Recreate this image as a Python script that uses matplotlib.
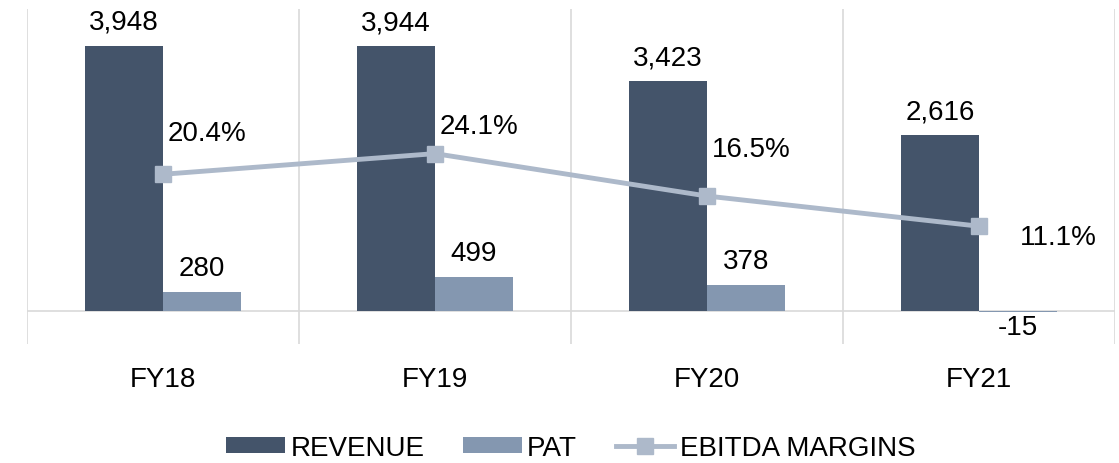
import matplotlib
matplotlib.use('Agg')
import matplotlib.pyplot as plt
import numpy as np
from matplotlib.ticker import FixedLocator

# 数据
YEARS = ['FY18', 'FY19', 'FY20', 'FY21']
REVENUE = [3948, 3944, 3423, 2616]
PAT = [280, 499, 378, -15]
EBITDA_MARGIN = [20.4, 24.1, 16.5, 11.1]

C_REV = '#44546A'
C_PAT = '#8497B0'
C_LINE = '#ADB9CA'
C_GRID = '#D9D9D9'
FS = 20

plt.rcParams['font.family'] = ['Liberation Sans', 'DejaVu Sans']

fig = plt.figure(figsize=(11.19, 4.64), dpi=100)
ax = fig.add_axes([27 / 1119, 1 - 345 / 464, 1088 / 1119, 335 / 464])
ax2 = ax.twinx()

x = np.arange(len(YEARS))
w = 0.287

bars_rev = ax.bar(x - w / 2, REVENUE, w, color=C_REV, label='REVENUE', zorder=2)
bars_pat = ax.bar(x + w / 2, PAT, w, color=C_PAT, label='PAT', zorder=2)

ax.set_xlim(-0.5, len(YEARS) - 0.5)
ax.set_ylim(-500, 4500)
ax.axhline(0, color=C_GRID, lw=1.2, zorder=1)

# 类别之间的竖线
ax.xaxis.set_minor_locator(FixedLocator(np.arange(-0.5, len(YEARS), 1.0)))
ax.grid(which='minor', axis='x', color=C_GRID, lw=1.2)
ax.set_axisbelow(True)
ax.set_xticks(x)
ax.set_xticklabels(YEARS, fontsize=FS)
ax.tick_params(axis='x', which='both', length=0, pad=16)
ax.set_yticks([])
for s in ax.spines.values():
    s.set_visible(False)

for bar, v in zip(bars_rev, REVENUE):
    ax.annotate(f'{v:,}', (bar.get_x() + bar.get_width() / 2, v),
                xytext=(0, 8), textcoords='offset points',
                ha='center', va='bottom', fontsize=FS)
for bar, v in zip(bars_pat, PAT):
    off = 8 if v >= 0 else -2
    ax.annotate(f'{v:,}', (bar.get_x() + bar.get_width() / 2, v),
                xytext=(0, off), textcoords='offset points',
                ha='center', va='bottom' if v >= 0 else 'top', fontsize=FS)

line, = ax2.plot(x, EBITDA_MARGIN, color=C_LINE, lw=3.5, marker='s',
                 markersize=12, label='EBITDA MARGINS', zorder=3)
ax2.set_ylim(-10, 50)
ax2.set_yticks([])
for s in ax2.spines.values():
    s.set_visible(False)

label_offsets = [(32, 30), (32, 20), (32, 34), (57, -8)]
for xi, v, off in zip(x, EBITDA_MARGIN, label_offsets):
    ax2.annotate(f'{v:.1f}%', (xi, v), xytext=off, textcoords='offset points',
                 ha='center', va='center', fontsize=FS)

fig.legend([bars_rev, bars_pat, line], ['REVENUE', 'PAT', 'EBITDA MARGINS'],
           loc='center', bbox_to_anchor=(571 / 1119, 1 - 449 / 464), ncol=3,
           frameon=False, fontsize=FS, handlelength=2.1, handleheight=0.5,
           handletextpad=0.2, columnspacing=1.4)

fig.savefig('out.png', dpi=100)
